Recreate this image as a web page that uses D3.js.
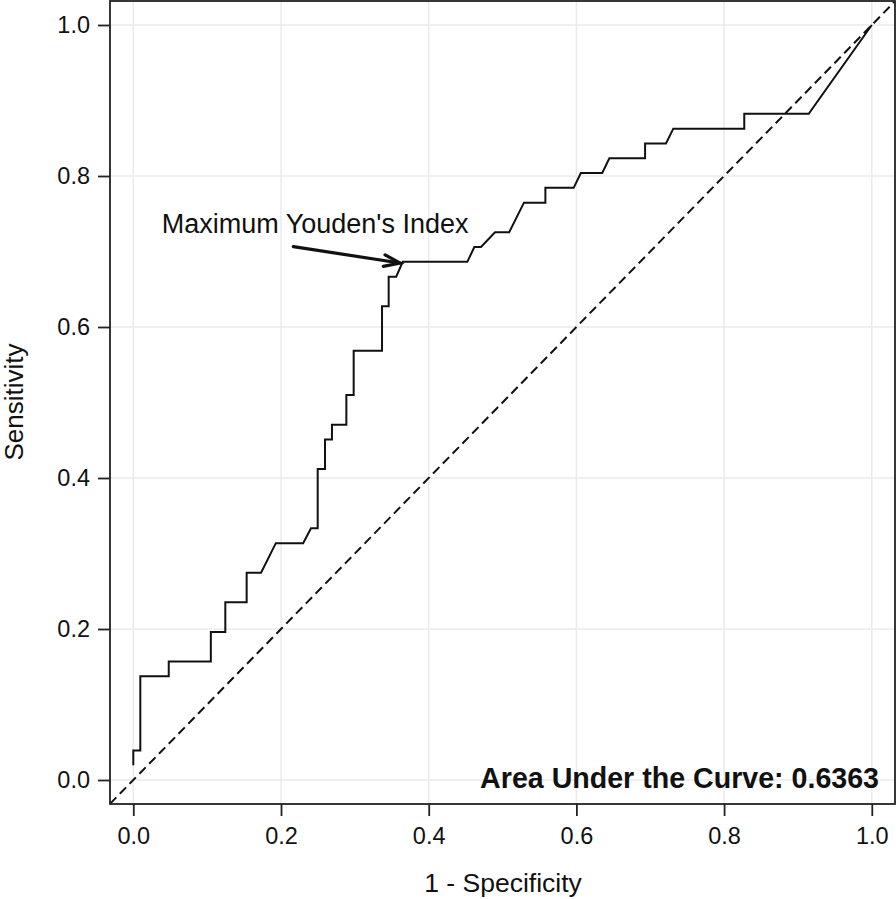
<!DOCTYPE html>
<html>
<head>
<meta charset="utf-8">
<script src="https://cdn.jsdelivr.net/npm/d3@7"></script>
<style>
  html, body { margin: 0; padding: 0; background: #fff; }
  svg { display: block; font-family: "Liberation Sans", Arial, Helvetica, sans-serif; }
</style>
</head>
<body>
<svg id="chart" width="896" height="899"></svg>
<script>
// ROC curve vertices (1 - Specificity, Sensitivity)
const fpr = [0, 0, 0.0095, 0.0095, 0.048, 0.048, 0.105, 0.105, 0.1246, 0.1246,
  0.1535, 0.1535, 0.173, 0.193, 0.230, 0.2406, 0.2497, 0.2497, 0.2596, 0.2596,
  0.269, 0.269, 0.2885, 0.2885, 0.2984, 0.2984, 0.3368, 0.3368, 0.3458, 0.3458,
  0.356, 0.3648, 0.4523, 0.4618, 0.4708, 0.4898, 0.509, 0.529, 0.558, 0.558,
  0.5963, 0.606, 0.635, 0.6446, 0.693, 0.693, 0.7213, 0.7312, 0.8273, 0.8273,
  0.9146, 1.0];
const tpr = [0.0196, 0.0392, 0.0392, 0.1373, 0.1373, 0.1569, 0.1569, 0.1961, 0.1961, 0.2353,
  0.2353, 0.2745, 0.2745, 0.3137, 0.3137, 0.3333, 0.3333, 0.4118, 0.4118, 0.4510,
  0.4510, 0.4706, 0.4706, 0.5098, 0.5098, 0.5686, 0.5686, 0.6275, 0.6275, 0.6667,
  0.6667, 0.6863, 0.6863, 0.7059, 0.7059, 0.7255, 0.7255, 0.7647, 0.7647, 0.7843,
  0.7843, 0.8039, 0.8039, 0.8235, 0.8235, 0.8431, 0.8431, 0.8627, 0.8627, 0.8824,
  0.8824, 1.0];
const xTicks = [0, 0.2, 0.4, 0.6, 0.8, 1.0];
const yTicks = [0, 0.2, 0.4, 0.6, 0.8, 1.0];
const xTitle = "1 - Specificity";
const yTitle = "Sensitivity";
const annotationText = "Maximum Youden's Index";
const arrowFrom = [0.2167, 0.7064];
const arrowTo = [0.3611, 0.6848];
const annotationPos = [0.0385, 0.724];
const aucValue = 0.6363;

const svg = d3.select("#chart");
const panel = { left: 110, right: 895, top: 1, bottom: 804 };

const x = d3.scaleLinear().domain([0, 1]).range([133.3, 871.8]);
const y = d3.scaleLinear().domain([0, 1]).range([780, 25]);

svg.append("defs").append("clipPath").attr("id", "clip")
  .append("rect")
  .attr("x", panel.left).attr("y", panel.top)
  .attr("width", panel.right - panel.left).attr("height", panel.bottom - panel.top);

// grid
const grid = svg.append("g");
grid.selectAll("line.vx").data(xTicks).join("line")
  .attr("x1", d => x(d)).attr("x2", d => x(d))
  .attr("y1", panel.top).attr("y2", panel.bottom)
  .attr("stroke", "#ebebeb").attr("stroke-width", 1.5);
grid.selectAll("line.hy").data(yTicks).join("line")
  .attr("y1", d => y(d)).attr("y2", d => y(d))
  .attr("x1", panel.left).attr("x2", panel.right)
  .attr("stroke", "#ebebeb").attr("stroke-width", 1.5);

const plot = svg.append("g").attr("clip-path", "url(#clip)");

// diagonal reference
const dLo = x.invert(panel.left), dHi = x.invert(panel.right + 2);
plot.append("line")
  .attr("x1", x(dLo)).attr("y1", y(dLo))
  .attr("x2", x(dHi)).attr("y2", y(dHi))
  .attr("stroke", "#111").attr("stroke-width", 2)
  .attr("stroke-dasharray", "9,5");

// ROC curve
const pts = fpr.map((f, i) => [f, tpr[i]]);
plot.append("path")
  .datum(pts)
  .attr("d", d3.line().x(d => x(d[0])).y(d => y(d[1])))
  .attr("fill", "none").attr("stroke", "#111").attr("stroke-width", 2)
  .attr("stroke-linejoin", "miter");

// frame
svg.append("rect")
  .attr("x", panel.left).attr("y", panel.top)
  .attr("width", panel.right - panel.left).attr("height", panel.bottom - panel.top)
  .attr("fill", "none").attr("stroke", "#222").attr("stroke-width", 1.8);

// axes
const xAxis = d3.axisBottom(x).tickValues(xTicks).tickFormat(d3.format(".1f"))
  .tickSize(12).tickPadding(11);
const gx = svg.append("g").attr("transform", `translate(0,${panel.bottom})`).call(xAxis);
gx.select(".domain").remove();
gx.selectAll(".tick line").attr("stroke", "#222").attr("stroke-width", 1.8);
gx.selectAll(".tick text").attr("font-size", 23.5).attr("fill", "#111")
  .attr("font-family", "Liberation Sans, Arial, sans-serif");

const yAxis = d3.axisLeft(y).tickValues(yTicks).tickFormat(d3.format(".1f"))
  .tickSize(12).tickPadding(8);
const gy = svg.append("g").attr("transform", `translate(${panel.left},0)`).call(yAxis);
gy.select(".domain").remove();
gy.selectAll(".tick line").attr("stroke", "#222").attr("stroke-width", 1.8);
gy.selectAll(".tick text").attr("font-size", 23.5).attr("fill", "#111")
  .attr("font-family", "Liberation Sans, Arial, sans-serif");

// axis titles
svg.append("text")
  .attr("x", 503).attr("y", 892)
  .attr("text-anchor", "middle").attr("font-size", 26.5).attr("fill", "#111")
  .text(xTitle);
svg.append("text")
  .attr("transform", `translate(23,402) rotate(-90)`)
  .attr("text-anchor", "middle").attr("font-size", 26).attr("fill", "#111")
  .text(yTitle);

// annotation
svg.append("text")
  .attr("x", x(annotationPos[0])).attr("y", y(annotationPos[1]))
  .attr("font-size", 27).attr("fill", "#111")
  .text(annotationText);

const ax1 = x(arrowFrom[0]), ay1 = y(arrowFrom[1]);
const ax2 = x(arrowTo[0]), ay2 = y(arrowTo[1]);
const ang = Math.atan2(ay2 - ay1, ax2 - ax1);
const headLen = 17, headAng = Math.PI / 9;
svg.append("line")
  .attr("x1", ax1).attr("y1", ay1).attr("x2", ax2).attr("y2", ay2)
  .attr("stroke", "#111").attr("stroke-width", 3.2).attr("stroke-linecap", "round");
svg.append("path")
  .attr("d", `M${ax2 - headLen * Math.cos(ang - headAng)},${ay2 - headLen * Math.sin(ang - headAng)}` +
             `L${ax2},${ay2}` +
             `L${ax2 - headLen * Math.cos(ang + headAng)},${ay2 - headLen * Math.sin(ang + headAng)}`)
  .attr("fill", "none").attr("stroke", "#111").attr("stroke-width", 3.2)
  .attr("stroke-linecap", "round").attr("stroke-linejoin", "miter");

// AUC label
svg.append("text")
  .attr("x", 879).attr("y", 788)
  .attr("text-anchor", "end").attr("font-size", 28.6).attr("font-weight", "bold").attr("fill", "#111")
  .text("Area Under the Curve: " + aucValue.toFixed(4));
</script>
</body>
</html>
